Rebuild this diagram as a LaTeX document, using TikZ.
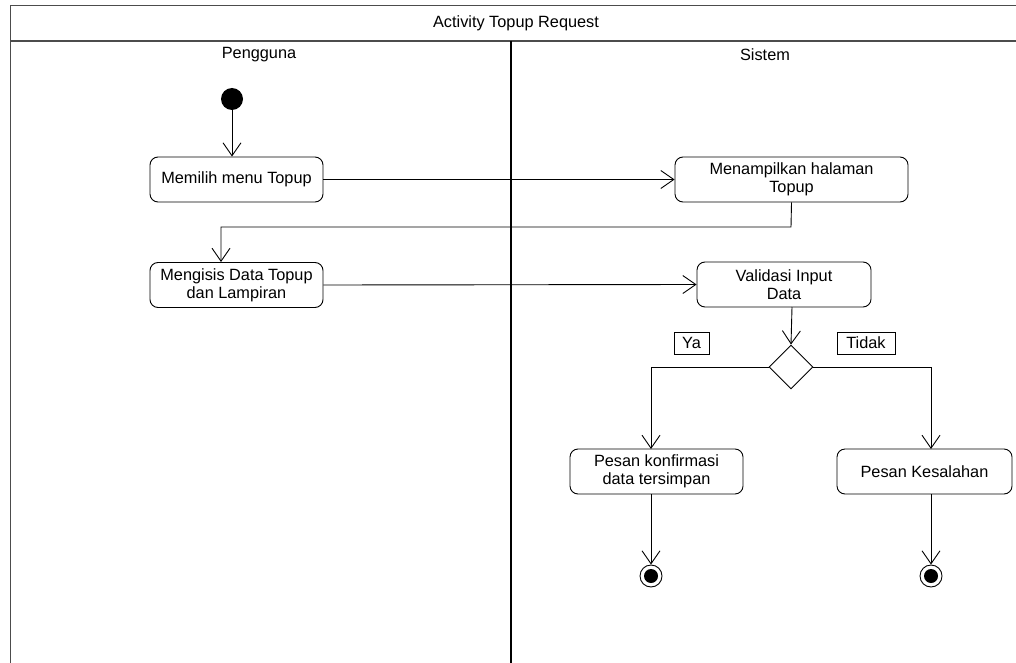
\documentclass[tikz,border=0pt]{standalone}
\usepackage{fontspec}
\setmainfont{Liberation Sans}
\usetikzlibrary{arrows.meta,shapes.geometric}
\begin{document}
\begin{tikzpicture}[x=1pt,y=-1pt,
  every node/.style={font=\fontsize{16.3}{18}\selectfont, inner sep=0pt},
  action/.style={draw, rounded corners=8pt, line width=0.9pt, align=center,
    minimum height=45pt},
  guard/.style={draw, line width=0.9pt, minimum width=35pt, minimum height=22pt},
  flow/.style={line width=0.9pt, -{Straight Barb[length=13pt,width=18pt,line width=0.9pt]}},
  frameline/.style={draw=black!70, line width=1.4pt},
  lanediv/.style={line width=2pt}]
\useasboundingbox (0,0) rectangle (1016,663);
\fill[white] (0,0) rectangle (1016,663);

% partition frame and header
\draw[frameline] (1020,5.5) -- (10.5,5.5) -- (10.5,663);
\draw[frameline] (10.5,41) -- (1020,41);
\draw[lanediv] (511,41) -- (511,663);
\node (title) at (516,23) {Activity Topup Request};
\node (laneA) at (259,55) {Pengguna};
\node (laneB) at (765,55) {Sistem};

% start node
\node[circle, fill=black, minimum size=22pt] (start) at (232,99) {};

% actions
\node[action, minimum width=173pt] (pilih) at (236.5,179.5) {Memilih menu Topup};
\node[action, minimum width=173pt] (isi) at (236.5,285) {Mengisis Data Topup\\dan Lampiran};
\node[action, minimum width=233pt] (tampil) at (791.5,179.5) {Menampilkan halaman\\Topup};
\node[action, minimum width=174pt] (valid) at (784,284.5) {Validasi Input\\Data};
\node[draw, diamond, line width=0.9pt, minimum width=44pt, minimum height=44pt] (dec) at (791,367) {};
\node[action, minimum width=173pt] (ok) at (656.5,471.5) {Pesan konfirmasi\\data tersimpan};
\node[action, minimum width=175pt] (err) at (924.5,471.5) {Pesan Kesalahan};

% guards
\node[guard] (ya) at (691.5,343) {Ya};
\node[guard, minimum width=58pt] (tidak) at (866,343) {Tidak};

% final nodes
\node[circle, draw, line width=0.9pt, minimum size=22pt] (end1) at (651,576) {};
\node[circle, fill=black, minimum size=14pt] at (end1) {};
\node[circle, draw, line width=0.9pt, minimum size=22pt] (end2) at (931,576) {};
\node[circle, fill=black, minimum size=14pt] at (end2) {};

% control flows
\draw[flow] (start) -- (pilih.north -| start);
\draw[flow] (pilih.east) -- (tampil.west |- pilih.east);
\draw[flow] (tampil.south) -- (791,227) -| (221,262);
\draw[flow] (isi.east) -- (valid.west);
\draw[flow] (792,307) -- (dec.north);
\draw[flow] (dec.west) -| (651,449);
\draw[flow] (dec.east) -| (931,449);
\draw[flow] (651,494) -- (end1.north);
\draw[flow] (931,494) -- (end2.north);
\end{tikzpicture}
\end{document}
